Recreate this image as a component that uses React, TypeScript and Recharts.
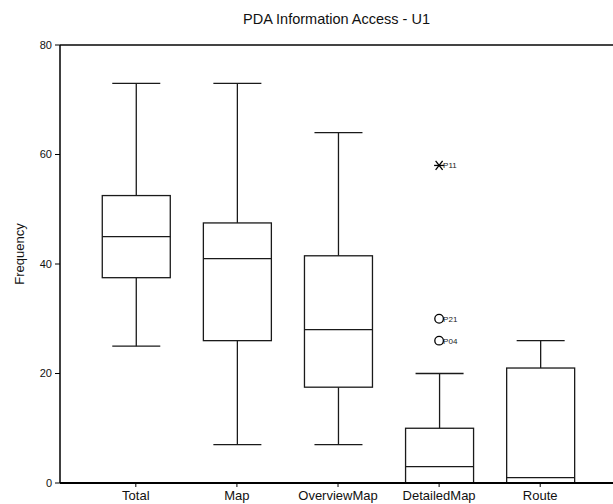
import React from 'react';
import { ComposedChart, Bar, Scatter, XAxis, YAxis, ReferenceLine } from 'recharts';

const categories = ['Total', 'Map', 'OverviewMap', 'DetailedMap', 'Route'];
const minValues = [25, 7, 7, 0, 0];
const q1Values = [37.5, 26, 17.5, 0, 0];
const medianValues = [45, 41, 28, 3, 1];
const q3Values = [52.5, 47.5, 41.5, 10, 21];
const maxValues = [73, 73, 64, 20, 26];
const yTicks = [0, 20, 40, 60, 80];

const outlierCategories = ['DetailedMap', 'DetailedMap', 'DetailedMap'];
const outlierValues = [58, 30, 26];
const outlierLabels = ['P11', 'P21', 'P04'];
const outlierKinds = ['extreme', 'outlier', 'outlier'];

const boxData = categories.map((name, i) => ({
  x: i,
  name,
  range: [minValues[i], maxValues[i]],
  min: minValues[i],
  q1: q1Values[i],
  median: medianValues[i],
  q3: q3Values[i],
  max: maxValues[i],
}));

const outlierData = outlierValues.map((v, i) => ({
  x: categories.indexOf(outlierCategories[i]),
  y: v,
  label: outlierLabels[i],
  kind: outlierKinds[i],
}));

const FONT = "Arial, 'Liberation Sans', sans-serif";
const STROKE = '#1a1a1a';

const BoxShape = (props: any) => {
  const { x, y, width, height, payload } = props;
  if (!payload) return null;
  const { min, max, q1, median, q3 } = payload;
  const top = Math.min(y, y + height);
  const h = Math.abs(height);
  const span = max - min;
  const toY = (v: number) => top + ((max - v) / span) * h;
  const cx = x + width / 2;
  const capHalf = width * 0.353;
  const yMax = toY(max);
  const yQ3 = toY(q3);
  const yMed = toY(median);
  const yQ1 = toY(q1);
  const yMin = toY(min);
  return (
    <g>
      <line x1={cx} x2={cx} y1={yMax} y2={yQ3} stroke={STROKE} strokeWidth={1.3} />
      <line x1={cx} x2={cx} y1={yQ1} y2={yMin} stroke={STROKE} strokeWidth={1.3} />
      <line x1={cx - capHalf} x2={cx + capHalf} y1={yMax} y2={yMax} stroke={STROKE} strokeWidth={1.3} />
      <line x1={cx - capHalf} x2={cx + capHalf} y1={yMin} y2={yMin} stroke={STROKE} strokeWidth={1.3} />
      <rect x={x} y={yQ3} width={width} height={yQ1 - yQ3} fill="#ffffff" stroke={STROKE} strokeWidth={1.3} />
      <line x1={x} x2={x + width} y1={yMed} y2={yMed} stroke={STROKE} strokeWidth={1.3} />
    </g>
  );
};

const OutlierShape = (props: any) => {
  const { cx, cy, payload } = props;
  if (cx == null || cy == null || !payload) return null;
  const r = 4.3;
  return (
    <g>
      {payload.kind === 'extreme' ? (
        <g stroke="#000" strokeWidth={1.3}>
          <line x1={cx - 5} x2={cx + 5} y1={cy} y2={cy} />
          <line x1={cx - 3.5} x2={cx + 3.5} y1={cy - 4.5} y2={cy + 4.5} />
          <line x1={cx - 3.5} x2={cx + 3.5} y1={cy + 4.5} y2={cy - 4.5} />
        </g>
      ) : (
        <circle cx={cx} cy={cy} r={r} fill="none" stroke="#000" strokeWidth={1.3} />
      )}
      <text x={cx + 4} y={cy + 3} fontSize={8} fontFamily={FONT} fill="#222">
        {payload.label}
      </text>
    </g>
  );
};

export default function App() {
  return (
    <div style={{ position: 'absolute', left: 0, top: 0, width: 613, height: 504, background: '#fff' }}>
      <div
        style={{
          position: 'absolute',
          left: 60,
          width: 553,
          top: 11,
          textAlign: 'center',
          fontFamily: FONT,
          fontSize: 14.5,
          lineHeight: '16px',
          color: '#111',
        }}
      >
        PDA Information Access - U1
      </div>
      <div
        style={{
          position: 'absolute',
          left: 19,
          top: 254,
          transform: 'translate(-50%, -50%) rotate(-90deg)',
          fontFamily: FONT,
          fontSize: 13,
          lineHeight: '15px',
          whiteSpace: 'nowrap',
          color: '#111',
        }}
      >
        Frequency
      </div>
      <ComposedChart
        width={613}
        height={504}
        data={boxData}
        margin={{ top: 45, right: 0, bottom: 0, left: 0 }}
        style={{ position: 'absolute', left: 0, top: 0 }}
      >
        <XAxis
          type="number"
          dataKey="x"
          domain={[-0.75, 4.72]}
          allowDataOverflow
          ticks={[0, 1, 2, 3, 4]}
          interval={0}
          tickFormatter={(v: number) => categories[v] ?? ''}
          height={21}
          tickSize={4}
          tickMargin={4}
          axisLine={{ stroke: '#000', strokeWidth: 2 }}
          tickLine={{ stroke: '#000', strokeWidth: 1 }}
          tick={{ fontSize: 13, fill: '#111', fontFamily: FONT }}
        />
        <YAxis
          type="number"
          domain={[0, 80]}
          ticks={yTicks}
          allowDataOverflow
          width={60}
          tickSize={5}
          tickMargin={3}
          axisLine={{ stroke: '#000', strokeWidth: 1.5 }}
          tickLine={{ stroke: '#000', strokeWidth: 1 }}
          tick={{ fontSize: 11, fill: '#111', fontFamily: FONT }}
        />
        <ReferenceLine y={80} stroke="#444" strokeWidth={2} />
        <Bar dataKey="range" barSize={68} shape={BoxShape} isAnimationActive={false} />
        <Scatter data={outlierData} dataKey="y" shape={OutlierShape} isAnimationActive={false} />
      </ComposedChart>
    </div>
  );
}
